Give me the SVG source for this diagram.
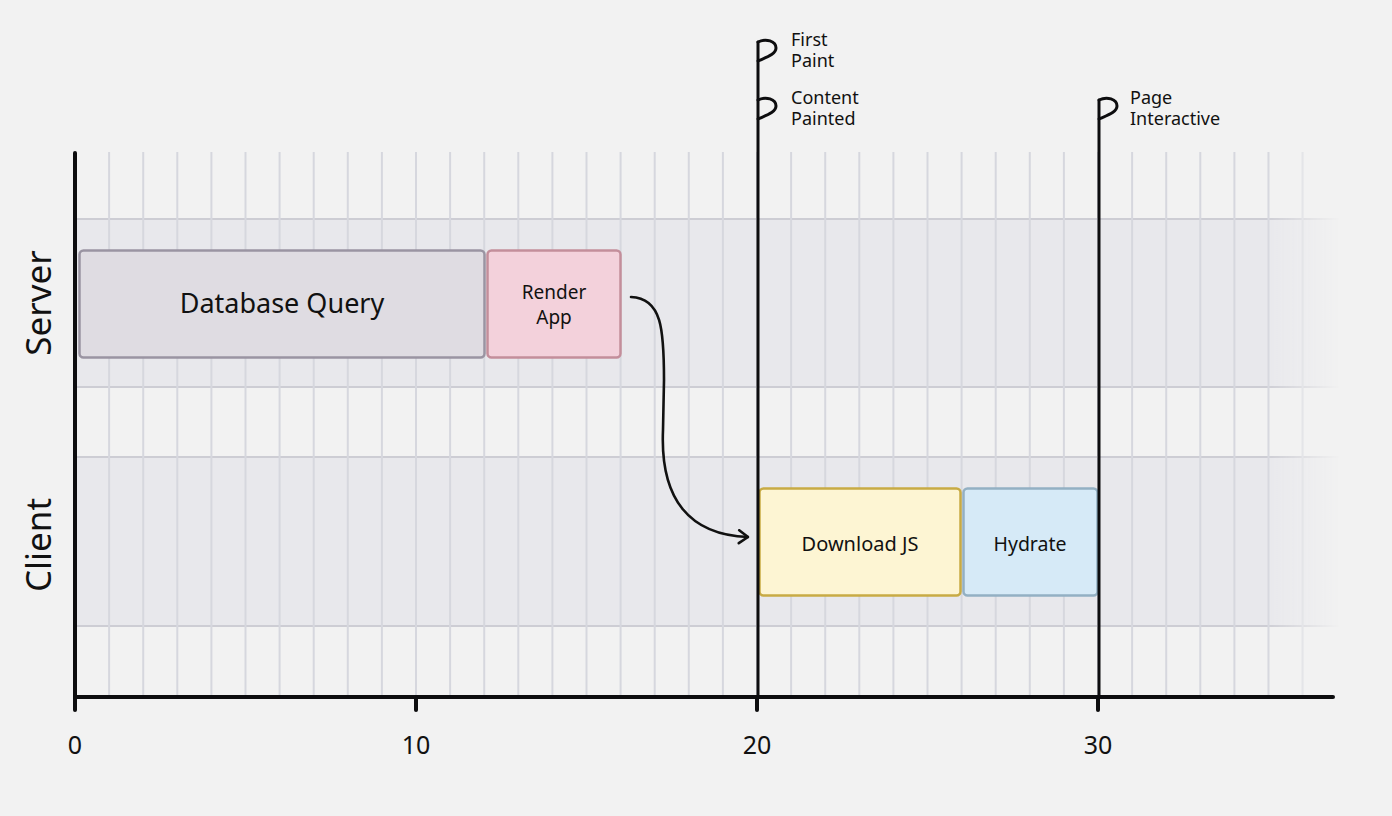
<svg xmlns="http://www.w3.org/2000/svg" width="1392" height="816" viewBox="0 0 1392 816">
  <defs>
    <linearGradient id="fadeGrad" x1="0" y1="0" x2="1" y2="0" gradientUnits="objectBoundingBox">
      <stop offset="0" stop-color="#fff"/>
      <stop offset="0.945" stop-color="#fff"/>
      <stop offset="1" stop-color="#000"/>
    </linearGradient>
    <mask id="fadeRight" maskUnits="userSpaceOnUse" x="0" y="0" width="1392" height="816">
      <rect x="0" y="0" width="1340" height="816" fill="url(#fadeGrad)"/>
    </mask>
    <marker id="chevron" viewBox="0 0 12 16" refX="11" refY="8" markerWidth="12" markerHeight="16" markerUnits="userSpaceOnUse" orient="auto">
      <path d="M2 1.5 L11 8 L2 14.5" fill="none" stroke="#111" stroke-width="2.6" stroke-linecap="round" stroke-linejoin="round"/>
    </marker>
    <style>
      .lane { fill: #e8e8ec; }
      .laneEdge { stroke: #cdcdd4; stroke-width: 2; }
      .grid line { stroke: #d6d7de; stroke-width: 2; }
      .axis { stroke: #0d0d0f; stroke-width: 4; stroke-linecap: round; fill: none; }
      .pole { stroke: #0d0d0f; stroke-width: 3; fill: none; stroke-linecap: round; stroke-linejoin: round; }
      .txt { font-family: "Noto Sans", "Liberation Sans", sans-serif; fill: #111; }
      .flag { font-size: 18px; }
      .box { stroke-width: 2.5; }
    </style>
  </defs>

  <rect width="1392" height="816" fill="#f2f2f2"/>

  <!-- lanes and grid, fading out towards the right -->
  <g id="lanes" mask="url(#fadeRight)">
    <rect class="lane" x="77" y="219" width="1263" height="168"/>
    <rect class="lane" x="77" y="457" width="1263" height="169"/>
    <line class="laneEdge" x1="77" y1="219" x2="1340" y2="219"/>
    <line class="laneEdge" x1="77" y1="387" x2="1340" y2="387"/>
    <line class="laneEdge" x1="77" y1="457" x2="1340" y2="457"/>
    <line class="laneEdge" x1="77" y1="626" x2="1340" y2="626"/>
    <g class="grid">
      <line x1="109.1" y1="152" x2="109.1" y2="695"/>
      <line x1="143.2" y1="152" x2="143.2" y2="695"/>
      <line x1="177.3" y1="152" x2="177.3" y2="695"/>
      <line x1="211.4" y1="152" x2="211.4" y2="695"/>
      <line x1="245.5" y1="152" x2="245.5" y2="695"/>
      <line x1="279.6" y1="152" x2="279.6" y2="695"/>
      <line x1="313.7" y1="152" x2="313.7" y2="695"/>
      <line x1="347.8" y1="152" x2="347.8" y2="695"/>
      <line x1="381.9" y1="152" x2="381.9" y2="695"/>
      <line x1="416" y1="152" x2="416" y2="695"/>
      <line x1="450.1" y1="152" x2="450.1" y2="695"/>
      <line x1="484.2" y1="152" x2="484.2" y2="695"/>
      <line x1="518.3" y1="152" x2="518.3" y2="695"/>
      <line x1="552.4" y1="152" x2="552.4" y2="695"/>
      <line x1="586.5" y1="152" x2="586.5" y2="695"/>
      <line x1="620.6" y1="152" x2="620.6" y2="695"/>
      <line x1="654.7" y1="152" x2="654.7" y2="695"/>
      <line x1="688.8" y1="152" x2="688.8" y2="695"/>
      <line x1="722.9" y1="152" x2="722.9" y2="695"/>
      <line x1="757" y1="152" x2="757" y2="695"/>
      <line x1="791.1" y1="152" x2="791.1" y2="695"/>
      <line x1="825.2" y1="152" x2="825.2" y2="695"/>
      <line x1="859.3" y1="152" x2="859.3" y2="695"/>
      <line x1="893.4" y1="152" x2="893.4" y2="695"/>
      <line x1="927.5" y1="152" x2="927.5" y2="695"/>
      <line x1="961.6" y1="152" x2="961.6" y2="695"/>
      <line x1="995.7" y1="152" x2="995.7" y2="695"/>
      <line x1="1029.8" y1="152" x2="1029.8" y2="695"/>
      <line x1="1063.9" y1="152" x2="1063.9" y2="695"/>
      <line x1="1098" y1="152" x2="1098" y2="695"/>
      <line x1="1132.1" y1="152" x2="1132.1" y2="695"/>
      <line x1="1166.2" y1="152" x2="1166.2" y2="695"/>
      <line x1="1200.3" y1="152" x2="1200.3" y2="695"/>
      <line x1="1234.4" y1="152" x2="1234.4" y2="695"/>
      <line x1="1268.5" y1="152" x2="1268.5" y2="695"/>
      <line x1="1302.6" y1="152" x2="1302.6" y2="695"/>
    </g>
  </g>

  <!-- lane titles -->
  <text class="txt" x="0" y="0" font-size="35" text-anchor="middle" transform="translate(51,303) rotate(-90)">Server</text>
  <text class="txt" x="0" y="0" font-size="35" text-anchor="middle" transform="translate(51,545) rotate(-90)">Client</text>

  <!-- time axis -->
  <g id="axis">
    <line class="axis" x1="75" y1="153" x2="75" y2="710"/>
    <line class="axis" x1="75" y1="697" x2="1333" y2="697"/>
    <line class="axis" x1="416" y1="697" x2="416" y2="710"/>
    <line class="axis" x1="757" y1="697" x2="757" y2="710"/>
    <line class="axis" x1="1098" y1="697" x2="1098" y2="710"/>
    <text class="txt" x="75" y="754" font-size="25" text-anchor="middle">0</text>
    <text class="txt" x="416" y="754" font-size="25" text-anchor="middle">10</text>
    <text class="txt" x="757" y="754" font-size="25" text-anchor="middle">20</text>
    <text class="txt" x="1098" y="754" font-size="25" text-anchor="middle">30</text>
  </g>

  <!-- task blocks -->
  <g id="database-query">
    <rect class="box" x="79.5" y="250.5" width="405" height="107" rx="4" fill="#dfdce2" stroke="#9a94a2"/>
    <text class="txt" x="282" y="313" font-size="27" text-anchor="middle">Database Query</text>
  </g>
  <g id="render-app">
    <rect class="box" x="487.5" y="250.5" width="133" height="107" rx="4" fill="#f3d1db" stroke="#c38e9b"/>
    <text class="txt" font-size="19" text-anchor="middle"><tspan x="554" y="299">Render</tspan><tspan x="554" y="324">App</tspan></text>
  </g>
  <g id="download-js">
    <rect class="box" x="759.5" y="488.5" width="201" height="107" rx="4" fill="#fdf5d3" stroke="#c8ab44"/>
    <text class="txt" x="860" y="551" font-size="20" text-anchor="middle">Download JS</text>
  </g>
  <g id="hydrate">
    <rect class="box" x="963.5" y="488.5" width="134" height="107" rx="4" fill="#d6eaf7" stroke="#93b0c3"/>
    <text class="txt" x="1030" y="551" font-size="19.5" text-anchor="middle">Hydrate</text>
  </g>

  <!-- milestone flags -->
  <g id="first-paint">
    <line class="pole" x1="758" y1="42" x2="758" y2="697"/>
    <path class="pole" d="M758 42 C766 38 776 41 776 48 C776 54 767 57 758 61"/>
    <text class="txt flag"><tspan x="791" y="46">First</tspan><tspan x="791" y="67">Paint</tspan></text>
  </g>
  <g id="content-painted">
    <path class="pole" d="M758 100 C766 96 776 99 776 106 C776 112 767 115 758 119"/>
    <text class="txt flag"><tspan x="791" y="104">Content</tspan><tspan x="791" y="125">Painted</tspan></text>
  </g>
  <g id="page-interactive">
    <line class="pole" x1="1099" y1="100" x2="1099" y2="697"/>
    <path class="pole" d="M1099 100 C1107 96 1117 99 1117 106 C1117 112 1108 115 1099 119"/>
    <text class="txt flag"><tspan x="1130" y="104">Page</tspan><tspan x="1130" y="125">Interactive</tspan></text>
  </g>

  <!-- connectors -->
  <g id="connectors">
    <path d="M631 297 C662 298 664 330 664 380 L663 430 C660 500 690 535 748 537" fill="none" stroke="#111" stroke-width="2.6" stroke-linecap="round" marker-end="url(#chevron)"/>
  </g>
</svg>
